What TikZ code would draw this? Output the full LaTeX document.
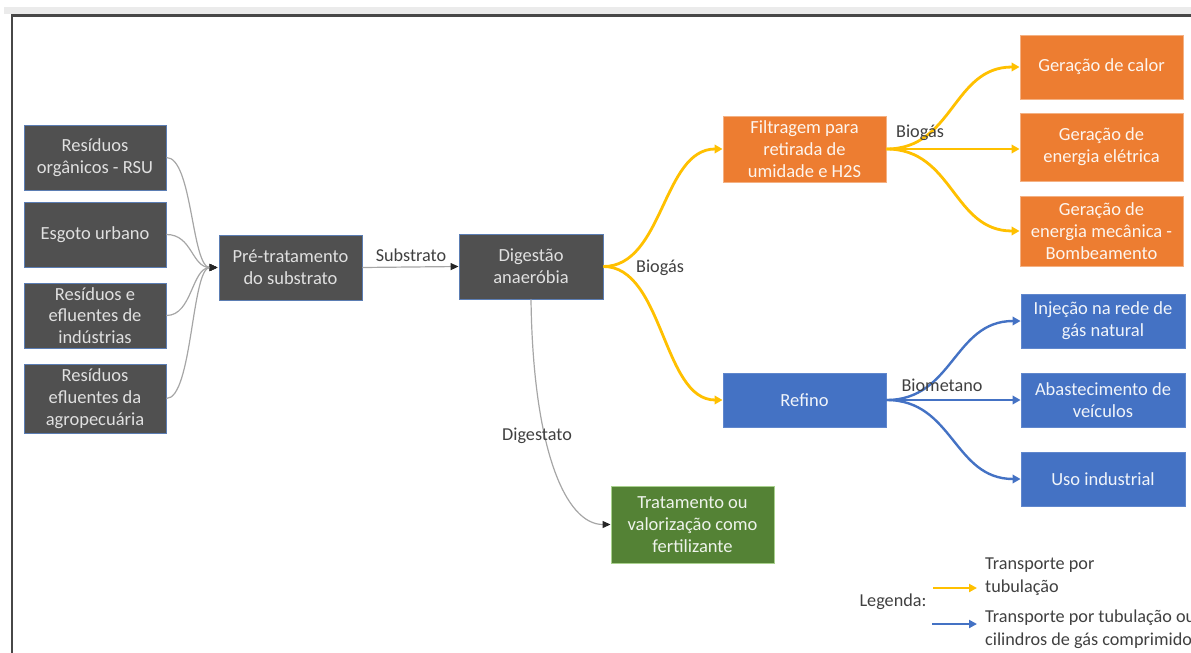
\documentclass[tikz,border=0pt]{standalone}
\usepackage{fontspec}
\setmainfont{Carlito}
\usetikzlibrary{arrows.meta}

\definecolor{boxgray}{HTML}{505050}
\definecolor{boxgrayline}{HTML}{5B7DB3}
\definecolor{boxorange}{HTML}{ED7D31}
\definecolor{boxorangeline}{HTML}{F4B183}
\definecolor{boxblue}{HTML}{4472C4}
\definecolor{boxgreen}{HTML}{548235}
\definecolor{boxgreenline}{HTML}{A9D18E}
\definecolor{pipeyellow}{HTML}{FFC000}
\definecolor{pipeblue}{HTML}{4472C4}
\definecolor{flowgray}{HTML}{A6A6A6}
\definecolor{labeltext}{HTML}{404040}

\tikzset{
  box/.style={rectangle, inner sep=0pt, align=center,
    font=\fontsize{18.5}{21.8}\selectfont, line width=0.9pt},
  graybox/.style={box, fill=boxgray, draw=boxgrayline, text=black!12},
  orangebox/.style={box, fill=boxorange, draw=boxorangeline, text=white!92!boxorange},
  bluebox/.style={box, fill=boxblue, draw=boxblue!85!white, text=white!92!boxblue},
  greenbox/.style={box, fill=boxgreen, draw=boxgreenline, text=white!90!boxgreen},
  flowlabel/.style={font=\fontsize{18.2}{22}\selectfont, text=labeltext, inner sep=0pt},
  grayflow/.style={draw=flowgray, line width=1.2pt,
    -{Triangle[length=8pt,width=7pt,color=black!85]}},
  yellowflow/.style={draw=pipeyellow, line width=2.8pt,
    -{Triangle[length=8pt,width=8.5pt]}},
  blueflow/.style={draw=pipeblue, line width=2.4pt,
    -{Triangle[length=8pt,width=8.5pt]}},
}

\begin{document}
\begin{tikzpicture}[x=1pt, y=-1pt]
  \useasboundingbox (0,0) rectangle (1191,653);
  \clip (0,0) rectangle (1191,653);

  % window strip and frame
  \fill[black!8] (4,7) rectangle (1191,14);
  \draw[black!72, line width=2.4pt] (12,670) -- (12,15.5) -- (1200,15.5);

  % source nodes
  \node[graybox, minimum width=142pt, minimum height=65pt] (rsu) at (95,157.5)
    {Resíduos\\orgânicos - RSU};
  \node[graybox, minimum width=142pt, minimum height=65pt] (esgoto) at (95,234.5)
    {Esgoto urbano};
  \node[graybox, minimum width=142pt, minimum height=65pt] (industria) at (95,315.5)
    {Resíduos e\\efluentes de\\indústrias};
  \node[graybox, minimum width=142pt, minimum height=69pt] (agro) at (95,398.5)
    {Resíduos\\efluentes da\\agropecuária};

  % processing chain
  \node[graybox, minimum width=143pt, minimum height=65pt] (pre) at (290.5,267.5)
    {Pré-tratamento\\do substrato};
  \node[graybox, minimum width=144pt, minimum height=65pt] (dig) at (531,266.5)
    {Digestão\\anaeróbia};
  \node[orangebox, minimum width=163pt, minimum height=66pt] (filt) at (804.5,149)
    {Filtragem para\\retirada de\\umidade e H2S};
  \node[bluebox, minimum width=163pt, minimum height=54pt] (refino) at (804.5,400)
    {Refino};
  \node[greenbox, minimum width=163pt, minimum height=77pt] (trat) at (692.5,524.5)
    {Tratamento ou\\valorização como\\fertilizante};

  % biogas uses
  \node[orangebox, minimum width=163pt, minimum height=64pt] (calor) at (1101.5,67)
    {Geração de calor};
  \node[orangebox, minimum width=163pt, minimum height=68pt] (eletrica) at (1101.5,147)
    {Geração de\\energia elétrica};
  \node[orangebox, minimum width=163pt, minimum height=70pt] (mecanica) at (1101.5,231)
    {Geração de\\energia mecânica -\\Bombeamento};

  % biomethane uses
  \node[bluebox, minimum width=164pt, minimum height=54pt] (injecao) at (1103,321)
    {Injeção na rede de\\gás natural};
  \node[bluebox, minimum width=164pt, minimum height=54pt] (veiculos) at (1103,400)
    {Abastecimento de\\veículos};
  \node[bluebox, minimum width=164pt, minimum height=54pt] (uso) at (1103,479)
    {Uso industrial};

  % inputs converging on pre-treatment
  \coordinate (prein) at ([xshift=-1pt]pre.west);
  \foreach \src in {rsu, esgoto, industria, agro}
    \draw[grayflow] (\src.east) .. controls +(26,0) and +(-26,0) .. (prein);

  % substrate and digestate
  \draw[grayflow] (pre.east) -- (dig.west);
  \draw[grayflow] (dig.south) .. controls +(2,150) and +(-45,0) .. (trat.west);

  % biogas routes
  \draw[yellowflow] (dig.east) .. controls +(60,0) and +(-60,0) .. (filt.west);
  \draw[yellowflow] (dig.east) .. controls +(60,0) and +(-60,0) .. (refino.west);
  \draw[yellowflow] (filt.east) .. controls +(67,0) and +(-67,0) .. (calor.west);
  \draw[yellowflow] (filt.east) -- (eletrica.west |- filt.east);
  \draw[yellowflow] (filt.east) .. controls +(67,0) and +(-67,0) .. (mecanica.west);

  % biomethane routes
  \draw[blueflow] (refino.east) .. controls +(67,0) and +(-67,0) .. (injecao.west);
  \draw[blueflow] (refino.east) -- (veiculos.west);
  \draw[blueflow] (refino.east) .. controls +(67,0) and +(-67,0) .. (uso.west);

  % flow labels
  \node[flowlabel] (lsub) at (411,255) {Substrato};
  \node[flowlabel] (lbio1) at (660,268) {Biogás};
  \node[flowlabel] (lbio2) at (920,133) {Biogás};
  \node[flowlabel] (lbiom) at (942,385) {Biometano};
  \node[flowlabel] (ldig) at (537,436) {Digestato};

  % legend
  \node[flowlabel] (leg) at (893,602) {Legenda:};
  \coordinate (ly0) at (933,588);
  \coordinate (ly1) at (977,588);
  \coordinate (lb0) at (932,624);
  \coordinate (lb1) at (977,624);
  \draw[pipeyellow, line width=2.4pt, -{Triangle[length=8pt,width=8pt]}] (ly0) -- (ly1);
  \draw[pipeblue, line width=2.4pt, -{Triangle[length=8pt,width=8pt]}] (lb0) -- (lb1);
  \node[flowlabel, anchor=west, align=left, font=\fontsize{18.2}{23}\selectfont]
    (legy) at (985,577) {Transporte por\\tubulação};
  \node[flowlabel, anchor=west, align=left, font=\fontsize{18.2}{23}\selectfont]
    (legb) at (985,629) {Transporte por tubulação ou\\cilindros de gás comprimido};
\end{tikzpicture}
\end{document}
